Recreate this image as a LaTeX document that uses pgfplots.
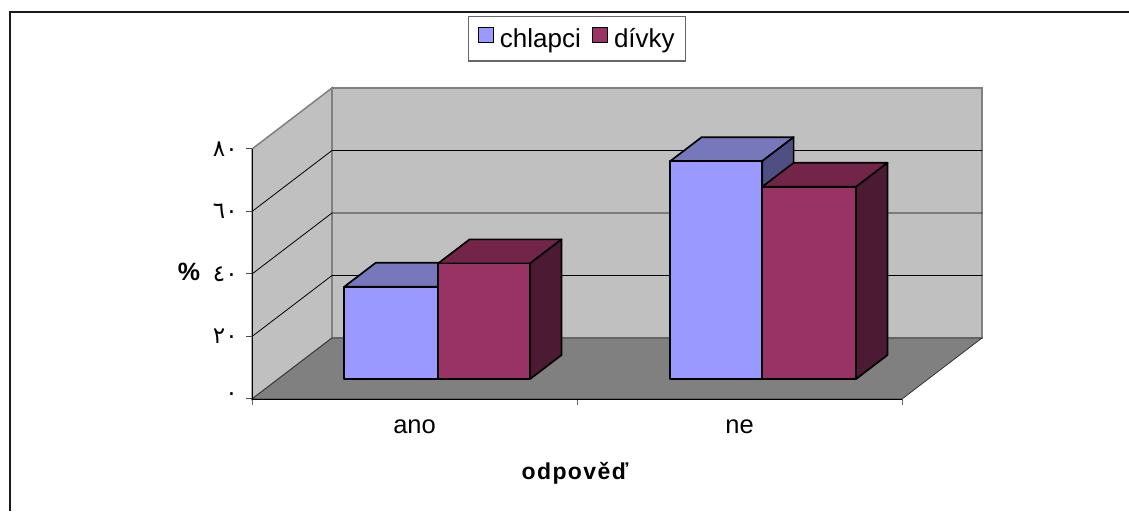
\documentclass[border=0pt]{standalone}
\usepackage{fontspec}
\setmainfont{Liberation Sans}
\newfontfamily\arabicfont[Script=Arabic]{DejaVu Sans}
\usepackage{pgfplots}
\pgfplotsset{compat=1.18}
\definecolor{wall}{HTML}{C0C0C0}
\definecolor{floorc}{HTML}{808080}
\definecolor{bfront}{HTML}{9999FF}
\definecolor{btop}{HTML}{7777BB}
\definecolor{bside}{HTML}{4F4F84}
\definecolor{gfront}{HTML}{993366}
\definecolor{gtop}{HTML}{722549}
\definecolor{gside}{HTML}{4C1A33}
% depth range of the bars inside the box
\def\da{0.328}
\def\db{0.721}
% x0, x1, value, front, top, side
\newcommand{\barbox}[6]{%
  \addplot3[forget plot,fill=#5,draw=black,line width=1.7pt,line join=round] coordinates {(#1,\da,#3) (#2,\da,#3) (#2,\db,#3) (#1,\db,#3)} -- cycle;
  \addplot3[forget plot,fill=#6,draw=black,line width=1.7pt,line join=round] coordinates {(#2,\da,0) (#2,\db,0) (#2,\db,#3) (#2,\da,#3)} -- cycle;
  \addplot3[forget plot,fill=#4,draw=black,line width=1.7pt,line join=round] coordinates {(#1,\da,0) (#2,\da,0) (#2,\da,#3) (#1,\da,#3)} -- cycle;
}
\begin{document}
\begin{tikzpicture}[x=1pt,y=1pt]
\useasboundingbox (0,0) rectangle (1129,511);
\draw[line width=2pt,black!90] (10,0) -- (10,499) -- (1129,499);
\begin{axis}[
  at={(252pt,112pt)},
  anchor=origin,
  x={(325pt,0pt)},
  y={(80pt,61pt)},
  z={(0pt,3.125pt)},
  xmin=0,xmax=2,ymin=0,ymax=1,zmin=0,zmax=80,
  clip=false,
  axis on top,
  axis x line*=bottom,
  axis y line=none,
  axis z line*=left,
  axis line style={black,line width=0.9pt,-},
  xtick={0.5,1.5},
  xticklabels={ano,ne},
  xtick style={draw=none},
  ztick={0,20,40,60,80},
  zticklabels={٠,٢٠,٤٠,٦٠,٨٠},
  ztick style={draw=none},
  tick align=outside,
  major tick length=6pt,
  x tick label style={font=\fontsize{25.5}{30}\selectfont,xshift=10pt,yshift=-14pt},
  z tick label style={font=\fontsize{23}{26}\selectfont\arabicfont,xshift=-6pt,yshift=9pt},
  legend columns=2,
  legend style={at={(0.296,1.232)},anchor=north west,draw=black!60,line width=1.2pt,
    font=\fontsize{26}{30}\selectfont,inner xsep=9pt,inner ysep=10pt,
    /tikz/every even column/.append style={column sep=9pt},
    /tikz/every odd column/.append style={column sep=4pt}},
]
% walls and floor
\addplot3[forget plot,fill=wall,draw=floorc,line width=1.5pt] coordinates {(0,0,0) (0,1,0) (0,1,80) (0,0,80)} -- cycle;
\addplot3[forget plot,fill=wall,draw=floorc,line width=1.5pt] coordinates {(0,1,0) (2,1,0) (2,1,80) (0,1,80)} -- cycle;
\addplot3[forget plot,fill=floorc,draw=black!80,line width=0.8pt] coordinates {(0,0,0) (2,0,0) (2,1,0) (0,1,0)} -- cycle;
% grid lines on the walls
\addplot3[forget plot,black,line width=0.8pt] coordinates {(0,0,20) (0,1,20) (2,1,20)};
\addplot3[forget plot,black,line width=0.8pt] coordinates {(0,0,40) (0,1,40) (2,1,40)};
\addplot3[forget plot,black,line width=0.8pt] coordinates {(0,0,60) (0,1,60) (2,1,60)};
% ticks, square to the page
\addplot3[forget plot,black!70,line width=1pt] coordinates {(-0.018,0,0) (0,0,0)};
\addplot3[forget plot,black!70,line width=1pt] coordinates {(-0.018,0,20) (0,0,20)};
\addplot3[forget plot,black!70,line width=1pt] coordinates {(-0.018,0,40) (0,0,40)};
\addplot3[forget plot,black!70,line width=1pt] coordinates {(-0.018,0,60) (0,0,60)};
\addplot3[forget plot,black!70,line width=1pt] coordinates {(-0.018,0,80) (0,0,80)};
\addplot3[forget plot,black!60,line width=1pt] coordinates {(0,0,0) (0,0,-2)};
\addplot3[forget plot,black!60,line width=1pt] coordinates {(1,0,0) (1,0,-2)};
\addplot3[forget plot,black!60,line width=1pt] coordinates {(2,0,0) (2,0,-2)};
% bars
\barbox{0.203}{0.492}{29.5}{bfront}{btop}{bside}
\barbox{0.492}{0.775}{37}{gfront}{gtop}{gside}
\barbox{1.206}{1.489}{69.7}{bfront}{btop}{bside}
\barbox{1.489}{1.778}{61.5}{gfront}{gtop}{gside}
\addlegendimage{legend image code/.code={\draw[fill=bfront,draw=black,line width=1.2pt] (0pt,-4pt) rectangle (15pt,11pt);}}
\addlegendentry{chlapci}
\addlegendimage{legend image code/.code={\draw[fill=gfront,draw=black,line width=1.2pt] (0pt,-4pt) rectangle (15pt,11pt);}}
\addlegendentry{dívky}
\end{axis}
\node[font=\fontsize{25}{28}\selectfont\bfseries] at (189,239) {\%};
\node[font=\fontsize{23}{26}\selectfont\bfseries\addfontfeatures{LetterSpace=6}] at (575,38) {odpověď};
\end{tikzpicture}
\end{document}
